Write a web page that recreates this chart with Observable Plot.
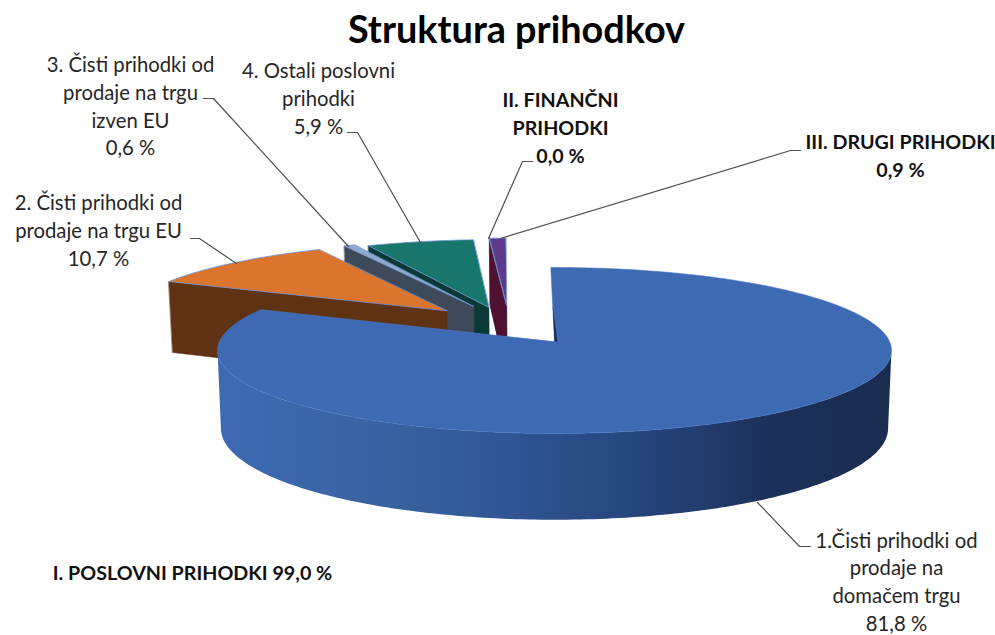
<!DOCTYPE html>
<html><head><meta charset="utf-8">
<style>html,body{margin:0;padding:0;background:#fff}svg{display:block}</style>
<script src="https://cdn.jsdelivr.net/npm/d3@7"></script>
<script src="https://cdn.jsdelivr.net/npm/@observablehq/plot@0.6"></script>
</head><body><div id="chart"></div>
<script>
// Data
const chartTitle = "Struktura prihodkov";
const sliceNames = ["1.Čisti prihodki od\nprodaje na\ndomačem trgu","2. Čisti prihodki od\nprodaje na trgu EU","3. Čisti prihodki od\nprodaje na trgu\nizven EU","4. Ostali poslovni\nprihodki","II. FINANČNI\nPRIHODKI","III. DRUGI PRIHODKI"];
const sliceShares = [81.8, 10.7, 0.6, 5.9, 0.0, 0.9];
const sliceValueLabels = ["81,8 %","10,7 %","0,6 %","5,9 %","0,0 %","0,9 %"];
const groupLabel = "I. POSLOVNI PRIHODKI 99,0 %";

// Styling and layout
const topColors  = ["#3e6ab4","#db742c","#8ea9cd","#18776c","#4a78c8","#5e3a8c"];
const faceColors = ["#1b2f54","#5f3213","#3e4a58","#0b3935","#4e1230","#2a3f70"];
const explodeX = [0,-0.335,-0.253,-0.205,-0.150,-0.150];
const explodeZ = [0, 0.390, 0.448, 0.435, 0.460, 0.460];
const labelX = [896,98,130,318,560,900];
const labelY = [538.5,201,63,69,98,140];
const leaderX = [[810,799,757],[190,199,236],[203,213,348],[347,357,420],[532,522,488],[800,790,500]];
const leaderY = [[546,546,502],[238,238,263],[98,98,246],[132,132,242],[161,161,238],[150,150,238]];
const boldLabel = [false,false,false,false,true,true];

// Perspective projection of the pie, in chart pixels
const CX = 554, CY = 341, RX = 335, RY = 82, K = 0.108, DEPTH = 77, START = -0.7;
const rad = d => d * Math.PI / 180;
function proj(X, Z, low = false) {
  const s = 1 / (1 + K * Z);
  const px = CX + RX * X * s, py = CY - RY * Z * s;
  return low ? {x: CX + (px - CX) * 0.99, y: py + DEPTH * s} : {x: px, y: py};
}
const rim = (i, deg, low) => proj(explodeX[i] + Math.sin(rad(deg)), explodeZ[i] + Math.cos(rad(deg)), low);
const apex = (i, low) => proj(explodeX[i], explodeZ[i], low);
const arc = (i, a, b, low) => {
  const n = Math.max(2, Math.ceil(Math.abs(b - a)));
  return d3.range(n + 1).map(t => rim(i, a + (b - a) * t / n, low));
};
const cum = d3.cumsum(sliceShares);
const startDeg = sliceShares.map((_, i) => START + (i ? cum[i - 1] : 0) * 3.6);
const endDeg = sliceShares.map((_, i) => START + cum[i] * 3.6);

function poly(points, fill, stroke = "none", strokeWidth = 0.8) {
  return Plot.line(points, {x: "x", y: "y", fill, stroke, strokeWidth, curve: "linear-closed"});
}
const edge = "#6f93d6";
function sliceMarks(i) {
  const a = startDeg[i], b = endDeg[i];
  return [
    poly([rim(i, a), apex(i), apex(i, true), rim(i, a, true)], faceColors[i], faceColors[i], 0.5),
    poly([apex(i), ...arc(i, a, b)], topColors[i], edge, 0.8)
  ];
}
// painter's order: back slices first
const backOrder = [5, 4, 3, 2, 1];
const sliver = [apex(0), proj(0.009 + Math.sin(rad(START)) * 0.01, 0), proj(Math.sin(rad(START)) * 0.45, 0.45)];

const defs = () => {
  const d = d3.create("svg:defs");
  const g = d.append("linearGradient").attr("id", "blueSide").attr("gradientUnits", "userSpaceOnUse")
    .attr("x1", 217).attr("x2", 891).attr("y1", 0).attr("y2", 0);
  [[0,"#3e6ab4"],[0.25,"#38629f"],[0.45,"#2f5491"],[0.65,"#25437a"],[0.82,"#1c3159"],[1,"#1a2d50"]]
    .forEach(([o, c]) => g.append("stop").attr("offset", o).attr("stop-color", c));
  return d.node();
};

const FONT = "Lato, 'Open Sans', sans-serif", LH = 27.6, FS = 20.3, FB = 19.7;
const labels = sliceNames.map((n, i) => {
  const text = n + "\n" + sliceValueLabels[i];
  return {text, x: labelX[i], y: labelY[i] + (text.split("\n").length - 1) * LH / 2, bold: boldLabel[i]};
});

const chart = Plot.plot({
  width: 995, height: 635, margin: 0,
  x: {domain: [0, 995], range: [0, 995], axis: null},
  y: {domain: [0, 635], range: [0, 635], axis: null},
  marks: [
    defs,
    ...backOrder.flatMap(sliceMarks),
    // blue slice: outer wall, top and the thin edge of its start face
    poly([...arc(0, 96, 264), ...arc(0, 264, 96, true)], "url(#blueSide)"),
    poly([apex(0), ...arc(0, startDeg[0], endDeg[0])], topColors[0], "#4a76c2", 0.6),
    poly(sliver, faceColors[0]),
    ...sliceShares.map((_, i) => Plot.line(leaderX[i].map((x, j) => ({x, y: leaderY[i][j]})),
      {x: "x", y: "y", stroke: "#505050", strokeWidth: 1.2, curve: "linear"})),
    Plot.text(labels.filter(d => !d.bold), {x: "x", y: "y", text: "text", textAnchor: "middle", lineAnchor: "middle",
      lineHeight: LH / FS, fontSize: FS, fontFamily: FONT, fill: "#262626"}),
    Plot.text(labels.filter(d => d.bold), {x: "x", y: "y", text: "text", textAnchor: "middle", lineAnchor: "middle",
      lineHeight: LH / FB, fontSize: FB, fontFamily: FONT, fontWeight: 700, fill: "#111"}),
    Plot.text([groupLabel], {x: 192, y: 573, text: d => d, textAnchor: "middle", lineAnchor: "middle",
      fontSize: FB, fontFamily: FONT, fontWeight: 700, fill: "#111"}),
    Plot.text([chartTitle], {x: 516, y: 30, text: d => d, textAnchor: "middle", lineAnchor: "middle",
      fontSize: 37.8, fontFamily: FONT, fontWeight: 700, fill: "#000"})
  ]
});
document.getElementById("chart").append(chart);
</script></body></html>
